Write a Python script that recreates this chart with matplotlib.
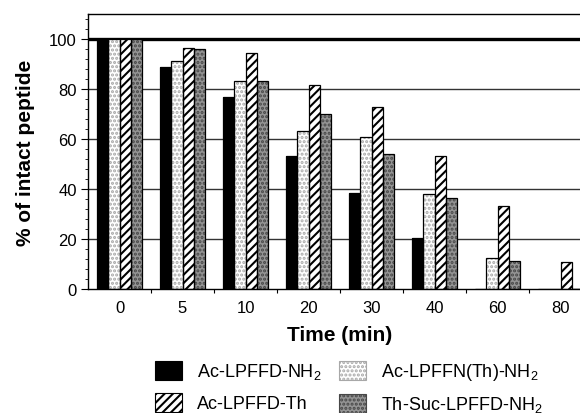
import matplotlib

matplotlib.use("Agg")
import matplotlib.pyplot as plt
import numpy as np
from matplotlib.patches import Patch

plt.rcParams["font.family"] = ["Liberation Sans", "DejaVu Sans"]
plt.rcParams["mathtext.fontset"] = "custom"
plt.rcParams["mathtext.rm"] = "Liberation Sans"
plt.rcParams["hatch.linewidth"] = 1.5

# data
times = ["0", "5", "10", "20", "30", "40", "60", "80"]
labels = [
    "Ac-LPFFD-NH$_2$",
    "Ac-LPFFN(Th)-NH$_2$",
    "Ac-LPFFD-Th",
    "Th-Suc-LPFFD-NH$_2$",
]
ac_nh2 = [100, 88.7, 76.9, 53.2, 38.5, 20.3, 0, 0]
ac_nth = [100, 91.3, 83.2, 63.1, 60.8, 38.0, 12.3, 0]
ac_th = [100, 96.3, 94.3, 81.7, 72.9, 53.2, 33.3, 10.8]
th_suc = [100, 95.9, 83.2, 70.1, 53.9, 36.3, 11.3, 0]
series = [ac_nh2, ac_nth, ac_th, th_suc]

# face colour, hatch, hatch colour
styles = [
    ("black", "", "black"),
    ("white", "....", "#a8a8a8"),
    ("white", "////", "black"),
    ("#949494", "....", "#474747"),
]

fig = plt.figure(figsize=(5.8, 4.14), dpi=100)
ax = fig.add_axes([88 / 580, 124 / 414, 504 / 580, 275 / 414])

x = np.arange(len(times))
w = 0.18
for i, (vals, (face, hatch, hc)) in enumerate(zip(series, styles)):
    pos = x + (i - 1.5) * w
    ax.bar(pos, vals, w, color=face, hatch=hatch, edgecolor=hc, linewidth=0, zorder=2)
    ax.bar(pos, vals, w, fill=False, edgecolor="black", linewidth=0.9, zorder=3)

# horizontal rules behind the bars
for yv in (20, 40, 60, 80):
    ax.axhline(yv, color="#333333", lw=1.0, zorder=0)
ax.axhline(100, color="black", lw=2.4, zorder=1)

ax.set_xlim(-0.5, len(times) - 0.5)
ax.set_ylim(0, 110)
ax.set_yticks(range(0, 101, 20))
ax.set_yticks(range(0, 110, 4), minor=True)
ax.set_xticks(x)
ax.set_xticklabels(times)
ax.set_xticks(np.arange(len(times)) + 0.5, minor=True)
ax.tick_params(axis="x", which="major", length=0, pad=8, labelsize=12)
ax.tick_params(axis="x", which="minor", length=3, width=0.8)
ax.tick_params(axis="y", which="major", length=5, width=0.8, labelsize=12, pad=3)
ax.tick_params(axis="y", which="minor", length=2, width=0.6)
ax.spines["right"].set_visible(False)
for s in ("left", "bottom", "top"):
    ax.spines[s].set_linewidth(1.0)

ax.set_ylabel("% of intact peptide", fontsize=15, fontweight="bold", labelpad=10)
ax.set_xlabel("Time (min)", fontsize=15, fontweight="bold", labelpad=4)
ax.xaxis.set_label_coords(252 / 504, -0.13)

handles = [
    Patch(facecolor=styles[k][0], hatch=styles[k][1], edgecolor=styles[k][2], linewidth=0.8)
    for k in range(4)
]
order = [0, 2, 1, 3]
fig.legend(
    [handles[k] for k in order],
    [labels[k] for k in order],
    ncol=2,
    loc="upper left",
    bbox_to_anchor=(155 / 580, 1 - 362 / 414),
    frameon=False,
    fontsize=13,
    handlelength=1.5,
    handleheight=1.2,
    handletextpad=0.8,
    columnspacing=1.0,
    labelspacing=0.65,
    borderpad=0,
    borderaxespad=0,
)

fig.savefig("out.png", dpi=100)
